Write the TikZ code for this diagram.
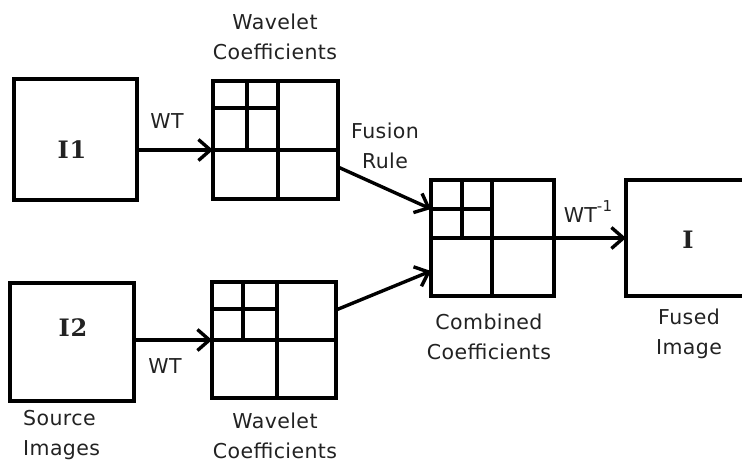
\documentclass[tikz,border=0pt]{standalone}
\usepackage{fontspec}
\setmainfont{DejaVu Sans}
\newfontfamily\lblfont[LetterSpace=2]{DejaVu Sans}
\newfontfamily\imgfont[LetterSpace=4]{DejaVu Serif}
\usetikzlibrary{arrows.meta}
\definecolor{txt}{HTML}{222222}

\tikzset{
  frame/.style={draw=black, line width=3.8pt, inner sep=0pt, outer sep=0pt, anchor=north west},
  grid/.style={draw=black, line width=3.8pt},
  conn/.style={draw=black, line width=3.4pt,
    -{Straight Barb[length=12pt,width=21pt,line width=3.4pt]}},
  lbl/.style={text=txt, inner sep=0pt, align=center,
    font=\lblfont\fontsize{20.5}{30}\selectfont},
  imglbl/.style={text=txt, inner sep=0pt,
    font=\imgfont\bfseries\fontsize{24}{24}\selectfont},
}

\begin{document}
\begin{tikzpicture}[x=1pt,y=-1pt]
\useasboundingbox (0,0) rectangle (742,466);
\clip (0,0) rectangle (742,466);
\fill[white] (0,0) rectangle (742,466);

% source images
\node[frame, minimum width=123pt, minimum height=121pt] (i1) at (14,79) {};
\node[frame, minimum width=124pt, minimum height=118pt] (i2) at (10,283) {};
\node[imglbl] (i1t) at (72,150) {I1};
\node[imglbl] (i2t) at (73,328) {I2};

% wavelet coefficient boxes
\node[frame, minimum width=125pt, minimum height=118pt] (w1) at (213,81) {};
\node[frame, minimum width=124pt, minimum height=116pt] (w2) at (212,282) {};
% combined coefficients
\node[frame, minimum width=123pt, minimum height=116pt] (cc) at (431,180) {};
% fused image (runs off the right edge)
\node[frame, minimum width=140pt, minimum height=116pt] (fu) at (626,180) {};
\node[imglbl] (fut) at (688,240) {I};

% sub-band grids
\draw[grid] (278,81) -- (278,199) (213,150) -- (338,150)
            (247,81) -- (247,150) (213,108) -- (278,108);
\draw[grid] (277,282) -- (277,398) (212,340) -- (336,340)
            (243,282) -- (243,340) (212,309) -- (277,309);
\draw[grid] (492,180) -- (492,296) (431,238) -- (554,238)
            (462,180) -- (462,238) (431,209) -- (492,209);

% anchor points on the box borders
\coordinate (w1in) at (213,150);
\coordinate (w2in) at (212,340);
\coordinate (w1out) at (338,167);
\coordinate (w2out) at (336,310);
\coordinate (ccin1) at (431,209);
\coordinate (ccin2) at (431,271);
\coordinate (ccout) at (554,238);

% connectors
\draw[conn] (i1.east |- w1in) -- (w1in);
\draw[conn] (i2.east |- w2in) -- (w2in);
\draw[conn] (w1out) -- (ccin1);
\draw[conn] (w2out) -- (ccin2);
\draw[conn] (ccout) -- (fu.west |- ccout);

% labels
\node[lbl] (wt1) at (167,121) {WT};
\node[lbl] (wt2) at (165,366) {WT};
\node[lbl] (wti) at (588,212) {WT\raisebox{11pt}{\fontsize{15}{15}\selectfont-1}};
\node[lbl] (fr) at (385,146) {Fusion\\Rule};
\node[lbl] (wc1) at (275,37) {Wavelet\\Coefficients};
\node[lbl] (wc2) at (275,436) {Wavelet\\Coefficients};
\node[lbl, align=left, anchor=west] (src) at (23,435) {Source\\Images};
\node[lbl] (ccl) at (489,337) {Combined\\Coefficients};
\node[lbl] (ful) at (689,334) {Fused\\Image};
\end{tikzpicture}
\end{document}
